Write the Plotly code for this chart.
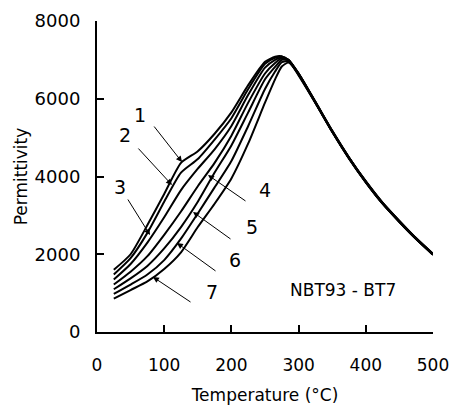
import plotly.graph_objects as go

temperature = [25, 50, 75, 100, 125, 150, 175, 200, 225, 250, 265, 275, 285, 300,
               325, 350, 375, 400, 425, 450, 475, 500]

curve_1 = [1600, 2000, 2750, 3550, 4350, 4650, 5100, 5650, 6350, 6950, 7080, 7090, 6980, 6600,
           5890, 5150, 4460, 3850, 3300, 2830, 2390, 1990]
curve_2 = [1480, 1900, 2550, 3350, 4100, 4450, 4950, 5500, 6250, 6900, 7050, 7090, 7000, 6620,
           5900, 5150, 4470, 3850, 3300, 2830, 2390, 1990]
curve_3 = [1350, 1750, 2300, 2950, 3650, 4200, 4700, 5300, 6100, 6800, 7000, 7070, 7000, 6630,
           5900, 5160, 4470, 3860, 3310, 2840, 2390, 1990]
curve_4 = [1220, 1550, 1950, 2500, 3100, 3750, 4350, 5050, 5900, 6650, 6920, 7040, 7000, 6640,
           5910, 5160, 4480, 3860, 3310, 2840, 2400, 2000]
curve_5 = [1100, 1380, 1700, 2150, 2700, 3350, 4100, 4800, 5650, 6500, 6820, 7000, 6990, 6650,
           5910, 5170, 4480, 3870, 3320, 2850, 2400, 2000]
curve_6 = [980, 1220, 1480, 1850, 2400, 3050, 3720, 4400, 5300, 6250, 6700, 6940, 6970, 6650,
           5920, 5170, 4490, 3870, 3320, 2850, 2410, 2010]
curve_7 = [860, 1080, 1300, 1620, 2050, 2700, 3300, 3950, 4850, 5900, 6500, 6830, 6930, 6640,
           5920, 5180, 4490, 3880, 3330, 2860, 2410, 2010]

curves = [curve_1, curve_2, curve_3, curve_4, curve_5, curve_6, curve_7]
curve_names = ["1", "2", "3", "4", "5", "6", "7"]

# label annotations: arrow head, arrow tail and text positions (data units)
label_heads_T = [126.5, 111.6, 78.9, 165.2, 142.9, 119.0, 83.3]
label_heads_eps = [4372, 3781, 2495, 4038, 3086, 2289, 1415]
label_tails_T = [83.3, 59.5, 44.6, 223.2, 200.9, 178.6, 141.4]
label_tails_eps = [5324, 4758, 3447, 3344, 2366, 1543, 746]
label_text_T = [64, 41.7, 34.2, 250, 230.7, 205.4, 171]
label_text_eps = [5581, 5067, 3729, 3652, 2701, 1852, 1029]

x_ticks = [0, 100, 200, 300, 400, 500]
y_ticks = [0, 2000, 4000, 6000, 8000]

FONT = "DejaVu Sans"

fig = go.Figure()
for name, vals in zip(curve_names, curves):
    fig.add_trace(go.Scatter(x=temperature, y=vals, mode="lines", name=name,
                             line=dict(color="black", width=2, shape="spline", smoothing=0.6),
                             showlegend=False, cliponaxis=False))

for i, name in enumerate(curve_names):
    fig.add_annotation(x=label_heads_T[i], y=label_heads_eps[i],
                       ax=label_tails_T[i], ay=label_tails_eps[i],
                       axref="x", ayref="y", xref="x", yref="y",
                       text="", showarrow=True, arrowhead=2, arrowsize=1.2,
                       arrowwidth=1, arrowcolor="black")
    fig.add_annotation(x=label_text_T[i], y=label_text_eps[i], text=name,
                       showarrow=False, font=dict(family=FONT, size=19, color="black"))

fig.add_annotation(x=366, y=1080, text="NBT93 - BT7", showarrow=False,
                   font=dict(family=FONT, size=17, color="black"))

fig.update_layout(
    width=454, height=410,
    margin=dict(l=97, r=21, t=21, b=78),
    plot_bgcolor="white", paper_bgcolor="white",
    font=dict(family=FONT, color="black"),
    xaxis=dict(range=[0, 500], tickvals=x_ticks, showgrid=False, zeroline=False,
               showline=True, linecolor="black", linewidth=2, automargin=False,
               ticks="inside", ticklen=7, tickwidth=2, tickcolor="black",
               tickfont=dict(size=17), ticklabelstandoff=17, ticklabeloverflow="allow",
               title=dict(text="Temperature (°C)", font=dict(size=17), standoff=15)),
    yaxis=dict(range=[0, 8000], tickvals=y_ticks, showgrid=False, zeroline=False,
               showline=True, linecolor="black", linewidth=2, automargin=False,
               ticks="inside", ticklen=7, tickwidth=2, tickcolor="black",
               tickfont=dict(size=18), ticklabelstandoff=11, ticklabeloverflow="allow",
               title=dict(text="Permittivity", font=dict(size=17), standoff=3)),
)

# remove the browser's default page margin so the figure fills the window exactly
fig.write_html("out.html", config={"displayModeBar": False},
               post_script="document.body.style.margin='0';document.body.style.overflow='hidden';")
